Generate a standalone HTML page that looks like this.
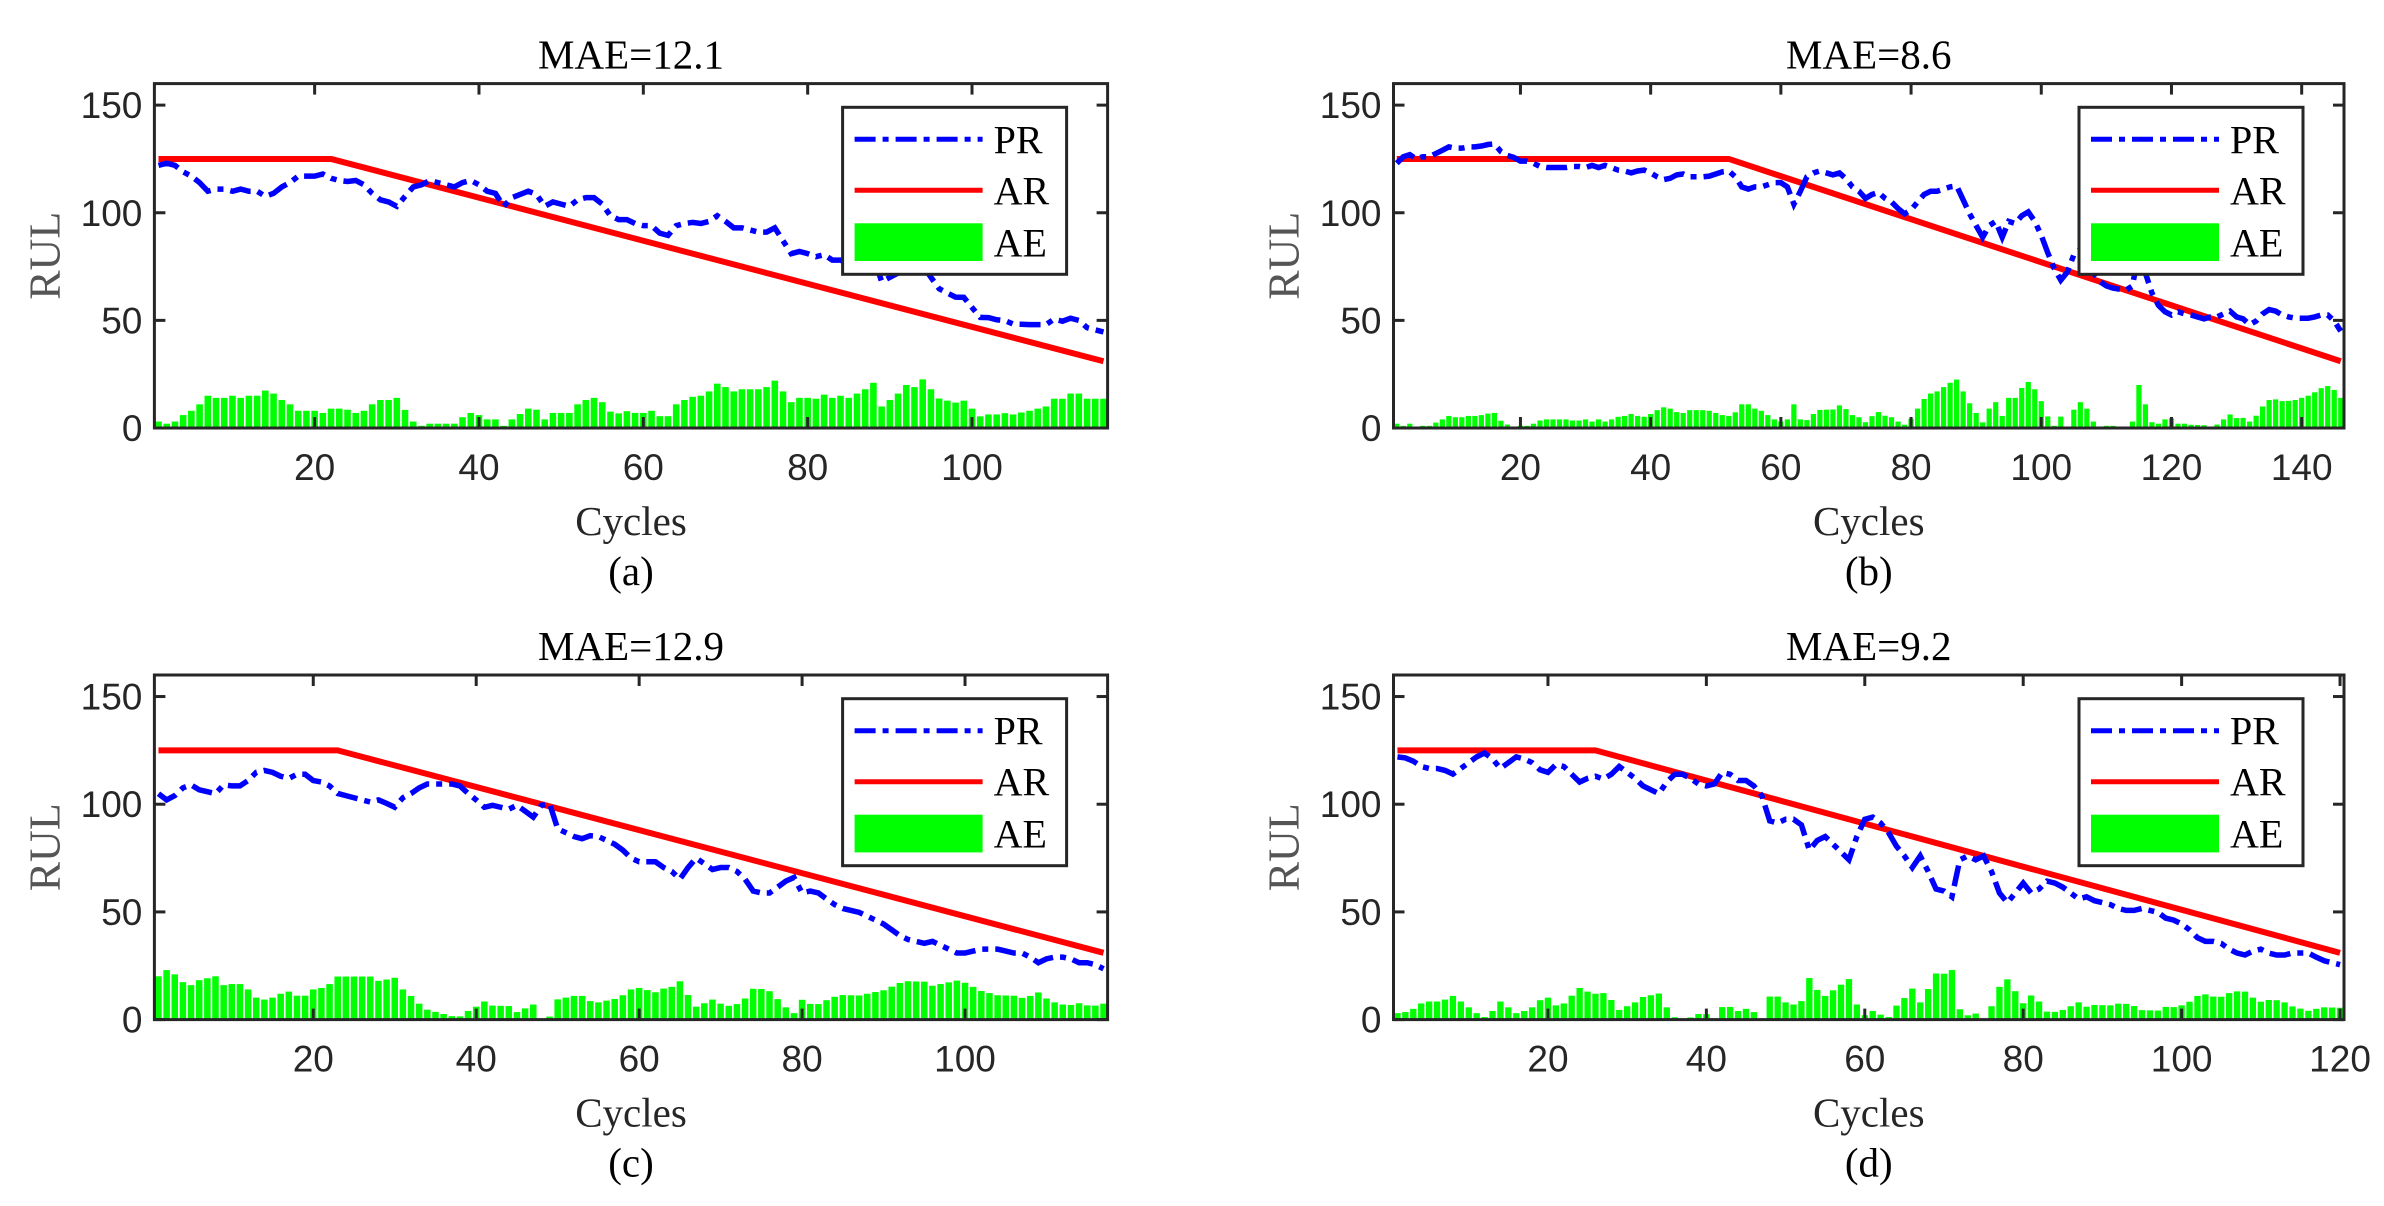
<!DOCTYPE html>
<html><head><meta charset="utf-8"><style>
html,body{margin:0;padding:0;background:#fff;}
svg{display:block;}
</style></head><body>
<svg id="fig" width="2384" height="1206" viewBox="0 0 2384 1206" xmlns="http://www.w3.org/2000/svg"></svg>
<script>
// ---- data ----
const prA = [122,123,122,119,117,114,110,111,111,110,111,110,110,107.6,109,112,114,117,117,117,118,116,115,114.5,115,113,109,106,105,103,107.6,112,113,115,114,113,112,114,115,113,110,109,103,107,108.5,110,108.5,103,105,104,103,106,107,107,104,98.6,96.8,96.8,95,94,94,90.5,89.5,94,95,95.5,95,96,98.6,96,93,93,92,91,91,93,87,81,82,81,79.6,80.5,78,78,76,77,78,80,68,70,72,75,73,75.6,70,64.7,62.7,60.8,60.7,56,51.4,51.3,50.3,49.9,48.3,48.2,48,48,48,50.6,49.6,51,50,46.6,45.6,44.6];
const prB = [123,126,127,125,126,126,127.5,129,130.6,130,130,130.6,130.6,131,131.7,132,128.4,126.6,125.7,124,124,123,121.5,121,121,121,121,121.5,121.5,121,122,121,122,121,119.8,119.4,118.5,119.4,119.8,118.5,116.7,115.4,116,117.6,118,116.7,116.7,116.7,117,118,119,119.4,116.7,112,111,112,112,113,114,114,112,104,110,116.7,118.5,119.4,118.5,117.6,118.5,115.8,112,110,106.7,108.5,109.4,106.7,105,102,99.5,101.3,105,108.5,110,110,111,112,112.5,106,99.5,94,88.6,94,96,88.6,96,95,98.6,100.4,96,89.5,81.4,74,68.7,72.4,80.5,83,79,72,68,66,65,64.5,64,66,82,72,62.7,57,54,52.5,54,53,52.5,51.6,50.7,51.6,51.6,53,54.3,51.6,50.7,48,49.7,53,55,54.3,52.5,51.6,51,51,51,51.6,52.5,52.5,49.7,45];
const prC = [104.9,102,104,107.6,109,106.7,105.8,104.9,109,108.5,108.5,111,114.8,115.7,114.8,113,112,113.9,113.9,111,110.3,108.5,105,104,103,102,101,102,100.4,98.6,103,105,107.6,109.4,109.4,109.4,109.4,108.5,105,102,98.6,99.5,98.6,97.7,99.5,96.8,94,99.5,100.4,88.6,86.8,85,84,85.4,85,83.2,81.4,78.7,75,73.3,73.3,73.3,70.6,68.8,65.2,70.6,75,72.4,69.7,70.6,70.6,68.8,65.2,59.7,58.8,58.8,61.5,64.3,66,58.8,59.7,58.8,56,53.4,51.6,50.7,49.8,48,46.2,44.4,41.7,39,37.2,36.3,35.4,36.3,34.5,32.7,30.9,30.9,31.8,32.7,32.7,32.7,31.8,30.9,30.9,29,26.4,28.2,29,29,28.2,26.4,26.4,25.5,23.6];
const prD = [122,121.5,120,117.5,116.6,116.6,115.7,114,116.6,119.3,122,123.8,121,116.6,119.3,122,121,119.3,116,114.8,118.4,117.5,113.9,110.3,112,113,111.7,113.9,117.5,114.8,112,108.5,106.7,104.9,110.3,113.9,113.9,112,109.4,108.5,109.4,114.8,113.9,111,111,108.5,104,92.3,91.3,93,93,90.4,78.7,83.2,85,81.4,77.8,74.2,85,93,94,91.3,86.8,80.5,76,70.6,76,68.8,60.6,59.7,57,74.2,76,74.2,76,68.8,58.8,54.3,58.8,63.4,58.8,60.6,64.3,63.4,61.5,58.8,56,57,55.2,54.3,53.4,51.6,50.7,50.7,51.6,50.7,49.8,47.1,46.2,44.4,41.7,38,36.3,36.3,35.4,32.7,30.9,30,31.8,32.7,30.9,30,30,30.9,30.9,30.9,29,27.3,26.4,25.5];
// actual RUL breakpoints (cycle, value)
const arXA = [1,22,116], arYA = [125,125,31];
const arXB = [1,52,146], arYB = [125,125,31];
const arXC = [1,23,117], arYC = [125,125,31];
const arXD = [1,26,120], arYD = [125,125,31];
const xTicksA = [20,40,60,80,100];
const xTicksB = [20,40,60,80,100,120,140];
const xTicksC = [20,40,60,80,100];
const xTicksD = [20,40,60,80,100,120];
const yTicks = [0,50,100,150];
const titles = ["MAE=12.1","MAE=8.6","MAE=12.9","MAE=9.2"];
const captions = ["(a)","(b)","(c)","(d)"];

const NS = "http://www.w3.org/2000/svg";
const svg = document.getElementById('fig');
function mk(tag, attrs, parent){
  const e = document.createElementNS(NS, tag);
  for (const k in attrs) e.setAttribute(k, attrs[k]);
  (parent||svg).appendChild(e);
  return e;
}
function interp(xs, ys, c){
  for (let i=0;i<xs.length-1;i++){
    if (c<=xs[i+1]){ const t=(c-xs[i])/(xs[i+1]-xs[i]); return ys[i]+t*(ys[i+1]-ys[i]); }
  }
  return ys[ys.length-1];
}
const panels = [
  {key:'a', pr:prA, arX:arXA, arY:arYA, ticks:xTicksA, L:154.4, R:1107.6, T:83.6, B:428},
  {key:'b', pr:prB, arX:arXB, arY:arYB, ticks:xTicksB, L:1393.5, R:2344, T:83.6, B:428},
  {key:'c', pr:prC, arX:arXC, arY:arYC, ticks:xTicksC, L:154.4, R:1107.6, T:675, B:1019.6},
  {key:'d', pr:prD, arX:arXD, arY:arYD, ticks:xTicksD, L:1393.5, R:2344, T:675, B:1019.6}
];
panels.forEach((p, idx) => {
  const n = p.pr.length;
  const g = mk('g', {});
  
  
  const xs = c => p.L + (c - 0.5) / n * (p.R - p.L);
  const ys = v => p.B - v / 160 * (p.B - p.T);
  const ar = c => interp(p.arX, p.arY, c);
  const bars = mk('g', {}, g);
  
  
  for (let i=0;i<n;i++){
    const c = i+1, ae = Math.abs(p.pr[i] - ar(c));
    const w = 0.8*(p.R-p.L)/n;
    const r = mk('rect', {x: xs(c)-w/2, y: ys(ae), width: w, height: p.B-ys(ae), fill:'#00ff00'}, bars);
    
    
  }
  const arPts = p.arX.map((c,i)=> xs(c)+','+ys(p.arY[i])).join(' ');
  const arl = mk('polyline', {points: arPts, fill:'none', stroke:'#ff0000', 'stroke-width':6, 'stroke-linejoin':'round'}, g);
  
  
  const prPts = p.pr.map((v,i)=> xs(i+1)+','+ys(v)).join(' ');
  const prl = mk('polyline', {points: prPts, fill:'none', stroke:'#0000ff', 'stroke-width':5.5, 'stroke-dasharray':'21 7 6 7'}, g);
  
  
  const box = mk('rect', {x:p.L, y:p.T, width:p.R-p.L, height:p.B-p.T, fill:'none', stroke:'#262626', 'stroke-width':3}, g);
  
  
  p.ticks.forEach(t => {
    const x = xs(t);
    mk('line', {x1:x, y1:p.B, x2:x, y2:p.B-11, stroke:'#262626', 'stroke-width':3}, g);
    mk('line', {x1:x, y1:p.T, x2:x, y2:p.T+11, stroke:'#262626', 'stroke-width':3}, g);
    const tx = mk('text', {x:x, y:p.B+52, 'text-anchor':'middle', 'font-family':'Liberation Sans, sans-serif', 'font-size':37, fill:'#262626'}, g);
    tx.textContent = t;
    
    
  });
  yTicks.forEach(t => {
    const y = ys(t);
    mk('line', {x1:p.L, y1:y, x2:p.L+11, y2:y, stroke:'#262626', 'stroke-width':3}, g);
    mk('line', {x1:p.R, y1:y, x2:p.R-11, y2:y, stroke:'#262626', 'stroke-width':3}, g);
    const ty = mk('text', {x:p.L-12, y:y+13, 'text-anchor':'end', 'font-family':'Liberation Sans, sans-serif', 'font-size':37, fill:'#262626'}, g);
    ty.textContent = t;
    
    
  });
  const cx = (p.L+p.R)/2;
  const ti = mk('text', {x:cx, y:p.T-15, 'text-anchor':'middle', 'font-family':'Liberation Serif, serif', 'font-size':41, fill:'#000'}, g);
  ti.textContent = titles[idx];
  
  
  const xl = mk('text', {x:cx, y:p.B+107, 'text-anchor':'middle', 'font-family':'Liberation Serif, serif', 'font-size':41, fill:'#262626'}, g);
  xl.textContent = 'Cycles';
  
  
  const cap = mk('text', {x:cx, y:p.B+157, 'text-anchor':'middle', 'font-family':'Liberation Serif, serif', 'font-size':41, fill:'#000'}, g);
  cap.textContent = captions[idx];
  
  
  const ym = (p.T+p.B)/2;
  const yx = p.L-95;
  const yl = mk('text', {x:yx, y:ym, 'text-anchor':'middle', 'font-family':'Liberation Serif, serif', 'font-size':44, fill:'#555', transform:'rotate(-90 '+yx+' '+ym+')'}, g);
  yl.textContent = 'RUL';
  
  
  const lg = mk('g', {}, g);
  
  
  const lx = p.R - 41 - 224, ly = p.T + 23.7;
  mk('rect', {x:lx, y:ly, width:224, height:167, fill:'#fff', stroke:'#262626', 'stroke-width':3}, lg);
  mk('line', {x1:lx+12, y1:ly+32, x2:lx+140, y2:ly+32, stroke:'#0000ff', 'stroke-width':5, 'stroke-dasharray':'21 7 6 7'}, lg);
  mk('line', {x1:lx+12, y1:ly+83, x2:lx+140, y2:ly+83, stroke:'#ff0000', 'stroke-width':5}, lg);
  mk('rect', {x:lx+12, y:ly+116, width:128, height:37.7, fill:'#00ff00'}, lg);
  [['PR',32],['AR',83],['AE',135]].forEach(e => {
    const t = mk('text', {x:lx+151, y:ly+e[1]+14, 'font-family':'Liberation Serif, serif', 'font-size':40, fill:'#000'}, lg);
    t.textContent = e[0];
    
    
  });
});
</script>
</body></html>
